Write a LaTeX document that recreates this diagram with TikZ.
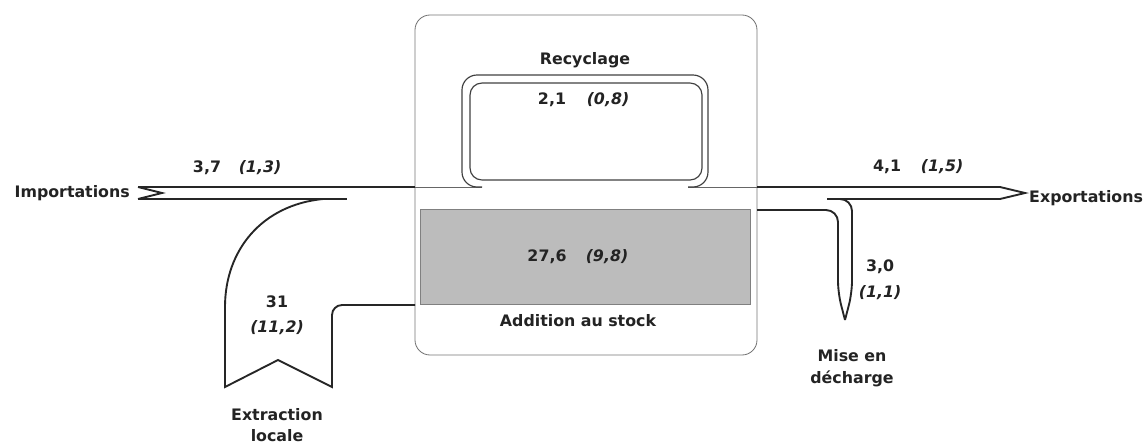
\documentclass[tikz,border=0pt]{standalone}
\usepackage{fontspec}
\setmainfont{DejaVu Sans}
\definecolor{stockgray}{RGB}{188,188,188}
\definecolor{txt}{RGB}{35,35,35}
\begin{document}
\begin{tikzpicture}[x=0.03cm,y=-0.03cm,
  lbl/.style={font=\fontsize{13.5}{18.5}\selectfont\bfseries,text=txt,inner sep=0pt,align=center},
  val/.style={lbl,font=\fontsize{13.5}{18.5}\selectfont\bfseries\itshape},
  flow/.style={line width=1.6pt,black!85,line join=miter},
  pipe/.style={line width=1pt,black!75},
  frame/.style={draw=black!55,line width=0.7pt,rounded corners=0.45cm}]
\useasboundingbox (0,0) rectangle (1148,446);
% system box and stock
\draw[frame] (415,15) rectangle (757,355);
\node[draw=black!50,fill=stockgray,minimum width=330*0.03cm,minimum height=95*0.03cm,inner sep=0pt] (stock) at (585,256.5) {};
\node[lbl] at (547,257) {27,6};
\node[val] at (607,257) {(9,8)};
\node[lbl] (stocklbl) at (578,321) {Addition au stock};
% key points
\coordinate (boxW) at (415,187);
\coordinate (boxE) at (757,187);
\coordinate (recL) at (482,187);
\coordinate (recR) at (688,187);
% importations
\node[lbl,anchor=east] (imp) at (130,193) {Importations};
\draw[flow] (138,187) -- (162,193) -- (138,199);
\draw[flow] (138,187) -- (boxW);
\draw[flow] (138,199) -- (347,199);
\node[lbl] at (207,168) {3,7};
\node[val] at (260,168) {(1,3)};
% extraction locale
\draw[flow] (323,199) .. controls (262,205) and (225,250) .. (225,307) -- (225,387) -- (278,360) -- (332,387)
  [rounded corners=0.3cm] -- (332,305) [sharp corners] -- (415,305);
\node[lbl] at (277,302) {31};
\node[val] at (277,328) {(11,2)};
\node[lbl] (ext) at (277,425) {Extraction\\locale};
% recyclage
\draw[black!60,line width=0.7pt] (boxW) -- (recL) (recR) -- (boxE);
\draw[pipe,rounded corners=0.45cm] (recL) -| (462,75) -| (708,187) -- (recR);
\draw[pipe,rounded corners=0.36cm] (470,83) rectangle (702,180);
\node[lbl] (rec) at (585,60) {Recyclage};
\node[lbl] at (552,100) {2,1};
\node[val] at (608,100) {(0,8)};
% exportations
\draw[flow] (boxE) -- (1000,187) -- (1025,193) -- (1000,199) -- (827,199);
\node[lbl,anchor=west] (exp) at (1029,198) {Exportations};
\node[lbl] at (887,167) {4,1};
\node[val] at (942,167) {(1,5)};
% mise en decharge
\draw[flow,rounded corners=0.36cm] (757,210) -| (838,293) [sharp corners] -- (845,320);
\draw[flow,rounded corners=0.36cm] (836,199) -| (852,293) [sharp corners] -- (845,320);
\node[lbl] at (880,267) {3,0};
\node[val] at (880,293) {(1,1)};
\node[lbl] (dech) at (852,368) {Mise en\\décharge};
\end{tikzpicture}
\end{document}
